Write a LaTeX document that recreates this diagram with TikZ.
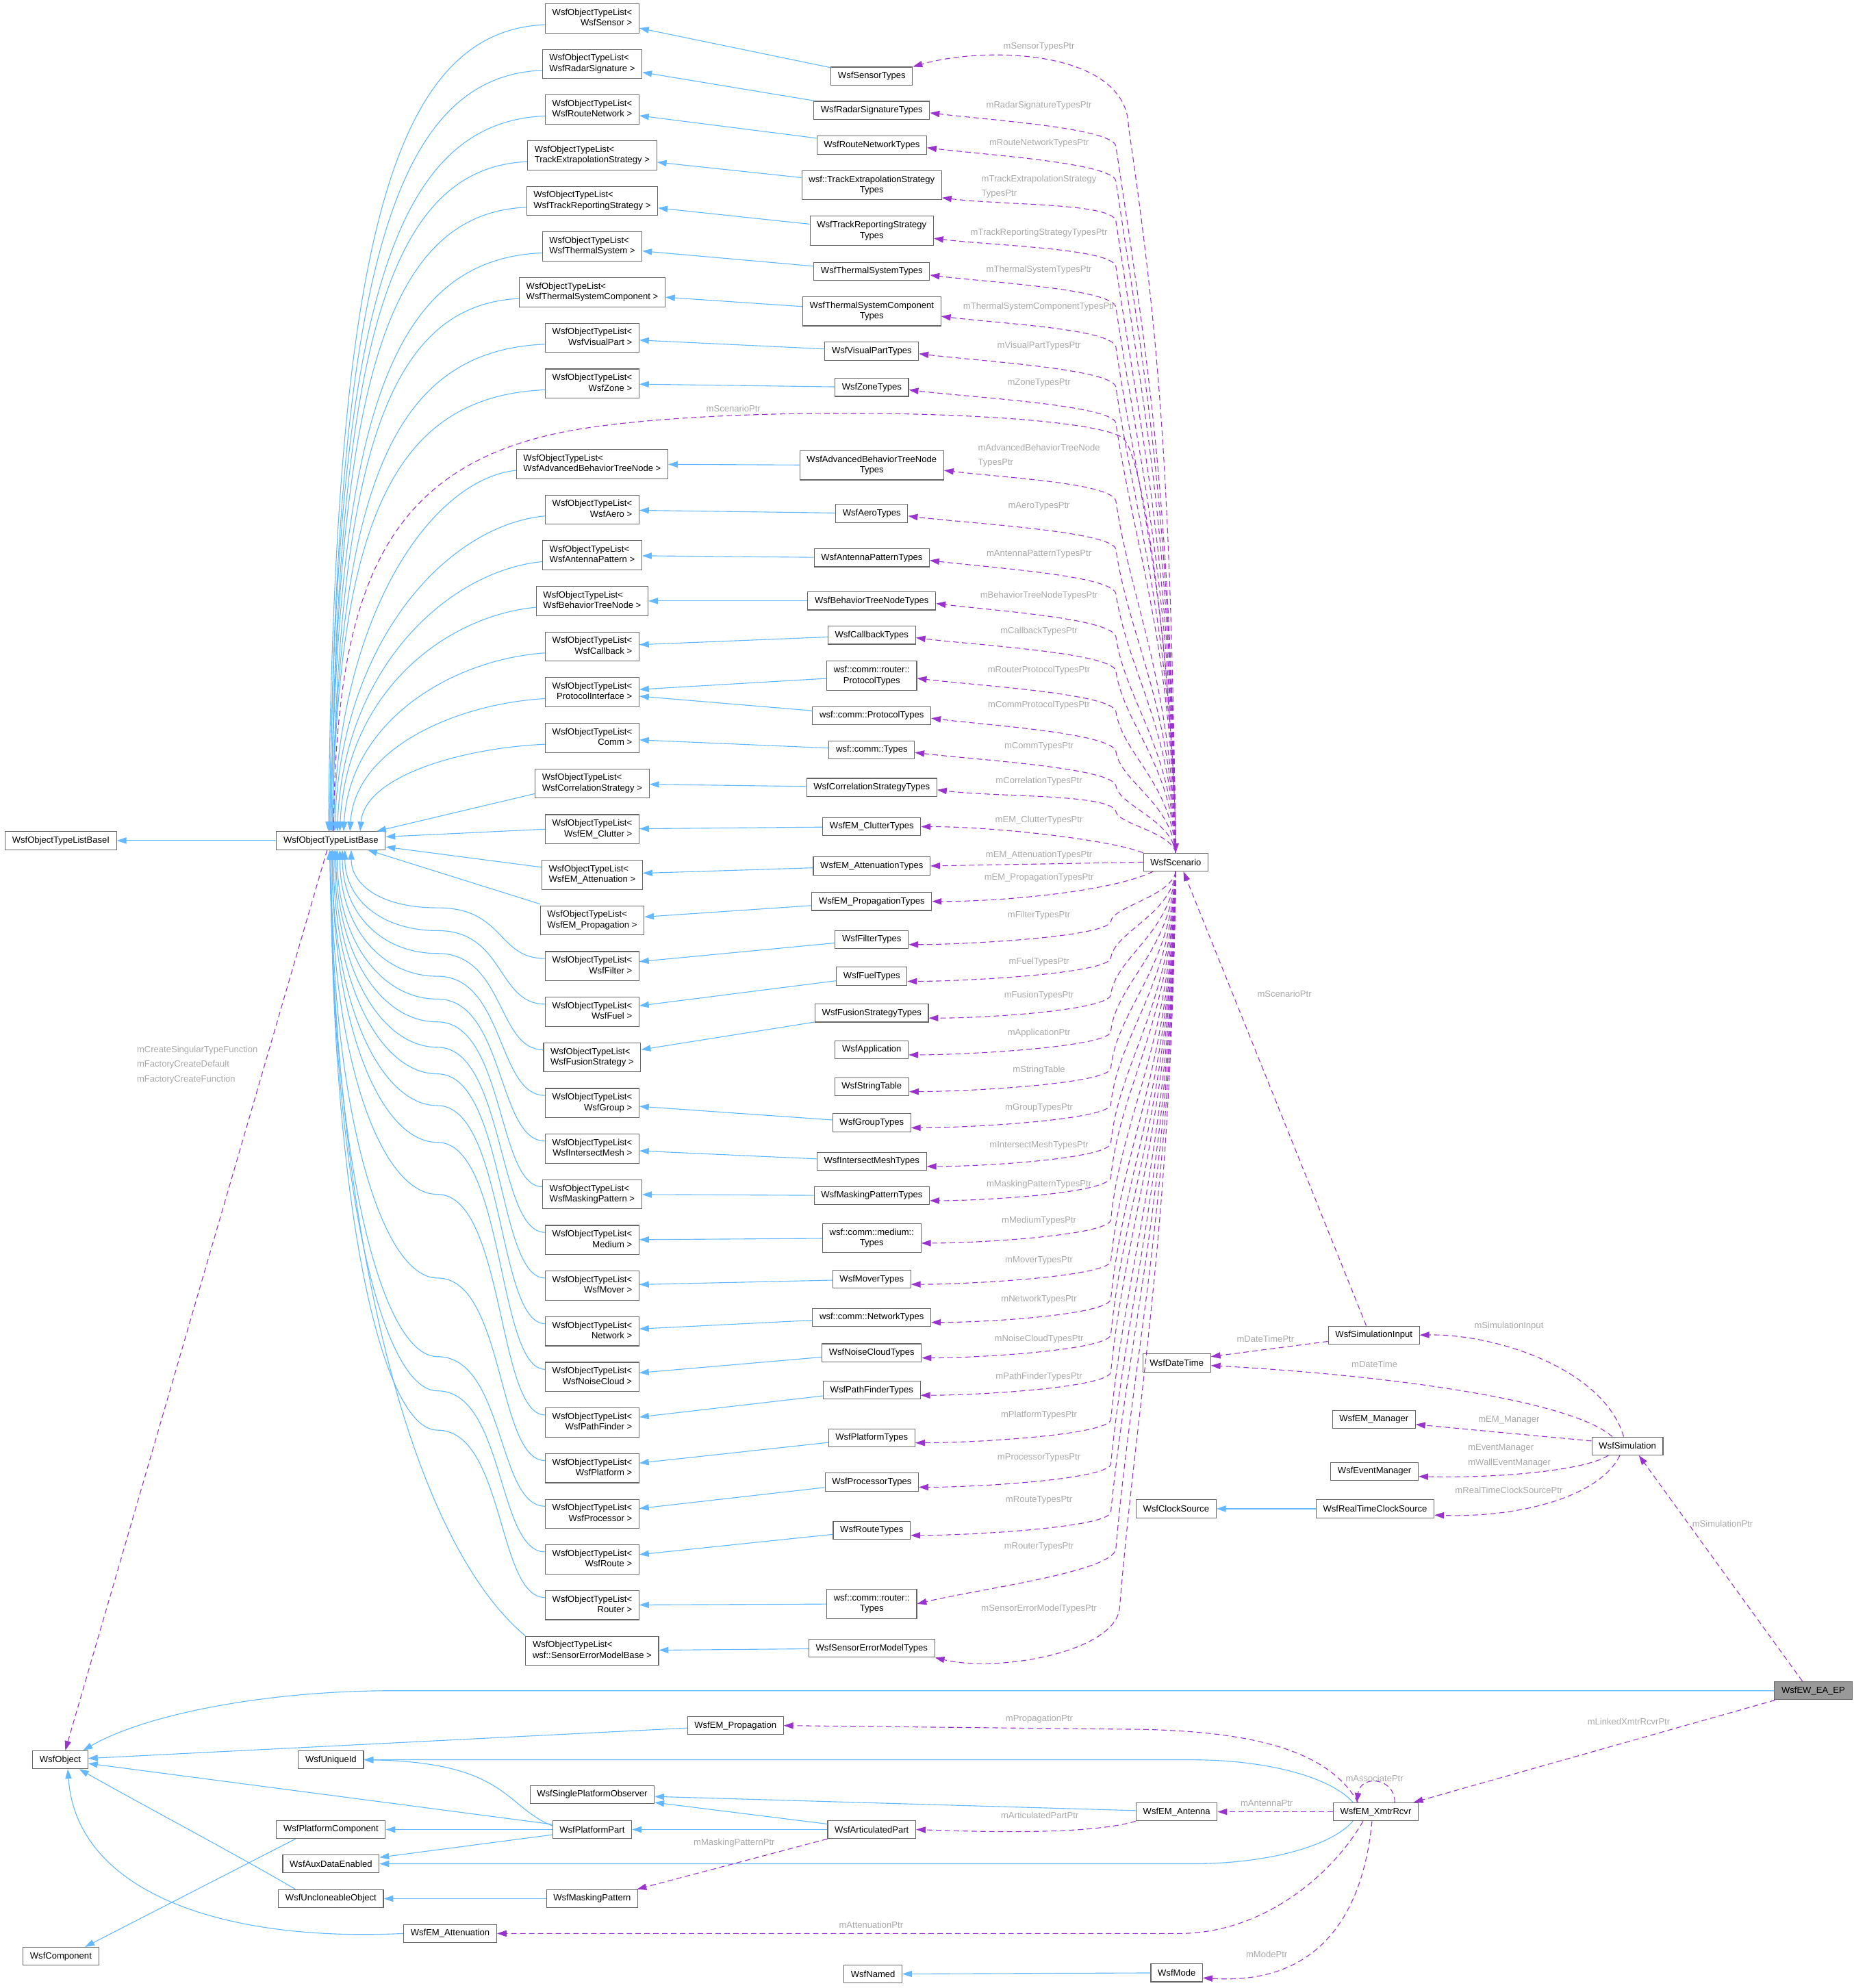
\documentclass[tikz,border=0pt]{standalone}
\usepackage{fontspec}
\setmainfont{Liberation Sans}
\usetikzlibrary{arrows.meta}
\definecolor{inhblue}{HTML}{63B8FF}
\definecolor{ptrpurple}{HTML}{9A32CD}
\definecolor{lblgrey}{HTML}{A8A8A8}
\definecolor{boxgrey}{HTML}{666666}
\definecolor{mainfill}{HTML}{999999}
% first line flush left, second line centred
\newcommand{\tlist}[1]{\begin{tabular}{@{}l@{}}WsfObjectTypeList<\\\hfill #1\hfill\end{tabular}}
% scenario member pointers, above and below the scenario box
\newcommand{\scenup}[2]{\draw[ptr] (scen.north) .. controls +(-4,{-0.5*(645-#2)}) and +({0.045*(645-#2)},{0.3*(645-#2)}) .. (880,#2+28) .. controls +(-4,-14) and +(50,6) .. #1;}
\newcommand{\scendown}[2]{\draw[ptr] (scen.south) .. controls +(-4,{0.5*(#2-701)}) and +({0.03*(#2-701)},{-0.3*(#2-701)}) .. (876,#2-14) .. controls +(-4,12) and +(45,0) .. ([yshift=-4pt]#1.east);}
% lower type lists back up to the base
\newcommand{\lowlink}[4]{\draw[inh] ([yshift=6pt]#1.west) .. controls (392,#4-6) and (398,#3) .. (345,#3) .. controls (300,#3) and ({261+#2},{670+0.6*(#3-670)}) .. ([xshift=#2pt]base.south);}

\begin{document}
\begin{tikzpicture}[x=1pt,y=-1pt,>={Triangle[length=7.5pt,width=5pt]},
    cls/.style={draw=boxgrey,fill=white,line width=0.6pt,inner xsep=5.5pt,inner ysep=0pt,minimum height=14.2pt,font=\fontsize{7.05}{8.3}\selectfont},
    tall/.style={cls,minimum height=23pt,align=center},
    hilite/.style={cls,fill=mainfill},
    lbl/.style={text=lblgrey,inner sep=0pt,align=left,font=\fontsize{7.05}{11.6}\selectfont},
    inh/.style={->,draw=inhblue,line width=0.6pt},
    ptr/.style={->,draw=ptrpurple,line width=0.6pt,dash pattern=on 4.3pt off 2.7pt}]
\useasboundingbox (0,0) rectangle (1462,1568);

% the type lists
\node[tall] (lsensor) at (467,14.5) {\tlist{WsfSensor >}};
\node[tall] (lradar) at (467,50.5) {\tlist{WsfRadarSignature >}};
\node[tall] (lroutenet) at (467,86.5) {\tlist{WsfRouteNetwork >}};
\node[tall] (ltrackext) at (467,122.5) {\tlist{TrackExtrapolationStrategy >}};
\node[tall] (ltrackrep) at (467,158.5) {\tlist{WsfTrackReportingStrategy >}};
\node[tall] (lthermal) at (467,194.5) {\tlist{WsfThermalSystem >}};
\node[tall] (lthermalcomp) at (467,230.5) {\tlist{WsfThermalSystemComponent >}};
\node[tall] (lvisual) at (467,266.5) {\tlist{WsfVisualPart >}};
\node[tall] (lzone) at (467,302.5) {\tlist{WsfZone >}};
\node[tall] (ladvbt) at (467,366) {\tlist{WsfAdvancedBehaviorTreeNode >}};
\node[tall] (laero) at (467,402) {\tlist{WsfAero >}};
\node[tall] (lantpat) at (467,438) {\tlist{WsfAntennaPattern >}};
\node[tall] (lbt) at (467,474) {\tlist{WsfBehaviorTreeNode >}};
\node[tall] (lcallback) at (467,510) {\tlist{WsfCallback >}};
\node[tall] (lprotocol) at (467,546) {\tlist{ProtocolInterface >}};
\node[tall] (lcomm) at (467,582) {\tlist{Comm >}};
\node[tall] (lcorrel) at (467,618) {\tlist{WsfCorrelationStrategy >}};
\node[tall] (lclutter) at (467,654) {\tlist{WsfEM\_Clutter >}};
\node[tall] (latten) at (467,690) {\tlist{WsfEM\_Attenuation >}};
\node[tall] (lprop) at (467,726) {\tlist{WsfEM\_Propagation >}};
\node[tall] (lfilter) at (467,762) {\tlist{WsfFilter >}};
\node[tall] (lfuel) at (467,798) {\tlist{WsfFuel >}};
\node[tall] (lfusion) at (467,834) {\tlist{WsfFusionStrategy >}};
\node[tall] (lgroup) at (467,870) {\tlist{WsfGroup >}};
\node[tall] (lmesh) at (467,906) {\tlist{WsfIntersectMesh >}};
\node[tall] (lmask) at (467,942) {\tlist{WsfMaskingPattern >}};
\node[tall] (lmedium) at (467,978) {\tlist{Medium >}};
\node[tall] (lmover) at (467,1014) {\tlist{WsfMover >}};
\node[tall] (lnetwork) at (467,1050) {\tlist{Network >}};
\node[tall] (lnoise) at (467,1086) {\tlist{WsfNoiseCloud >}};
\node[tall] (lpath) at (467,1122) {\tlist{WsfPathFinder >}};
\node[tall] (lplatform) at (467,1158) {\tlist{WsfPlatform >}};
\node[tall] (lproc) at (467,1194) {\tlist{WsfProcessor >}};
\node[tall] (lroute) at (467,1230) {\tlist{WsfRoute >}};
\node[tall] (lrouter) at (467,1266) {\tlist{Router >}};
\node[tall] (lsensorerr) at (467,1302) {\tlist{wsf::SensorErrorModelBase >}};

% the type tables
\node[cls] (tsensor) at (687.5,60) {WsfSensorTypes};
\node[cls] (tradar) at (687.5,87) {WsfRadarSignatureTypes};
\node[cls] (troutenet) at (687.5,114.5) {WsfRouteNetworkTypes};
\node[tall] (ttrackext) at (687.5,146) {wsf::TrackExtrapolationStrategy\\Types};
\node[tall] (ttrackrep) at (687.5,182) {WsfTrackReportingStrategy\\Types};
\node[cls] (tthermal) at (687.5,214) {WsfThermalSystemTypes};
\node[tall] (tthermalcomp) at (687.5,245.5) {WsfThermalSystemComponent\\Types};
\node[cls] (tvisual) at (687.5,277) {WsfVisualPartTypes};
\node[cls] (tzone) at (687.5,305.5) {WsfZoneTypes};
\node[tall] (tadvbt) at (687.5,367) {WsfAdvancedBehaviorTreeNode\\Types};
\node[cls] (taero) at (687.5,405) {WsfAeroTypes};
\node[cls] (tantpat) at (687.5,440) {WsfAntennaPatternTypes};
\node[cls] (tbt) at (687.5,474) {WsfBehaviorTreeNodeTypes};
\node[cls] (tcallback) at (687.5,501) {WsfCallbackTypes};
\node[tall] (trouterproto) at (687.5,533) {wsf::comm::router::\\ProtocolTypes};
\node[cls] (tcommproto) at (687.5,564.5) {wsf::comm::ProtocolTypes};
\node[cls] (tcomm) at (687.5,591.5) {wsf::comm::Types};
\node[cls] (tcorrel) at (687.5,621) {WsfCorrelationStrategyTypes};
\node[cls] (tclutter) at (687.5,652) {WsfEM\_ClutterTypes};
\node[cls] (tatten) at (687.5,683) {WsfEM\_AttenuationTypes};
\node[cls] (tprop) at (687.5,711) {WsfEM\_PropagationTypes};
\node[cls] (tfilter) at (687.5,741) {WsfFilterTypes};
\node[cls] (tfuel) at (687.5,770) {WsfFuelTypes};
\node[cls] (tfusion) at (687.5,799) {WsfFusionStrategyTypes};
\node[cls] (tapp) at (687.5,828) {WsfApplication};
\node[cls] (tstrings) at (687.5,857) {WsfStringTable};
\node[cls] (tgroup) at (687.5,885.5) {WsfGroupTypes};
\node[cls] (tmesh) at (687.5,916) {WsfIntersectMeshTypes};
\node[cls] (tmask) at (687.5,943) {WsfMaskingPatternTypes};
\node[tall] (tmedium) at (687.5,976.5) {wsf::comm::medium::\\Types};
\node[cls] (tmover) at (687.5,1009) {WsfMoverTypes};
\node[cls] (tnetwork) at (687.5,1039) {wsf::comm::NetworkTypes};
\node[cls] (tnoise) at (687.5,1067) {WsfNoiseCloudTypes};
\node[cls] (tpath) at (687.5,1096.5) {WsfPathFinderTypes};
\node[cls] (tplatform) at (687.5,1134) {WsfPlatformTypes};
\node[cls] (tproc) at (687.5,1169) {WsfProcessorTypes};
\node[cls] (troute) at (687.5,1207) {WsfRouteTypes};
\node[tall] (trouter) at (687.5,1265) {wsf::comm::router::\\Types};
\node[cls] (tsensorerr) at (687.5,1300) {WsfSensorErrorModelTypes};

% the other classes
\node[cls] (basei) at (48,663) {WsfObjectTypeListBaseI};
\node[cls] (base) at (261,663) {WsfObjectTypeListBase};
\node[cls] (scen) at (927.3,680) {WsfScenario};
\node[cls] (simin) at (1083.5,1053) {WsfSimulationInput};
\node[cls] (datetime) at (928,1075) {WsfDateTime};
\node[cls] (emmgr) at (1083.5,1119.5) {WsfEM\_Manager};
\node[cls] (sim) at (1283.5,1140.5) {WsfSimulation};
\node[cls] (evmgr) at (1084,1160.5) {WsfEventManager};
\node[cls] (clock) at (927.5,1190) {WsfClockSource};
\node[cls] (rtclock) at (1084.5,1190) {WsfRealTimeClockSource};
\node[hilite] (ew) at (1430,1333.5) {WsfEW\_EA\_EP};
\node[cls] (obj) at (47.5,1388) {WsfObject};
\node[cls] (uid) at (261,1388) {WsfUniqueId};
\node[cls] (emprop) at (580,1361) {WsfEM\_Propagation};
\node[cls] (spo) at (467,1415.5) {WsfSinglePlatformObserver};
\node[cls] (pc) at (261,1443) {WsfPlatformComponent};
\node[cls] (pp) at (467,1443) {WsfPlatformPart};
\node[cls] (ap) at (687.5,1443) {WsfArticulatedPart};
\node[cls] (aux) at (261,1470) {WsfAuxDataEnabled};
\node[cls] (uo) at (261,1497.5) {WsfUncloneableObject};
\node[cls] (mp) at (467,1497.5) {WsfMaskingPattern};
\node[cls] (ematt) at (355,1525) {WsfEM\_Attenuation};
\node[cls] (comp) at (48,1543) {WsfComponent};
\node[cls] (named) at (688.5,1557) {WsfNamed};
\node[cls] (mode) at (928,1556) {WsfMode};
\node[cls] (ant) at (928,1429) {WsfEM\_Antenna};
\node[cls] (xr) at (1085,1429) {WsfEM\_XmtrRcvr};

% tables derive from their lists
\draw[inh] (tsensor) -- (lsensor);
\draw[inh] (tradar) -- (lradar);
\draw[inh] (troutenet) -- (lroutenet);
\draw[inh] (ttrackext) -- (ltrackext);
\draw[inh] (ttrackrep) -- (ltrackrep);
\draw[inh] (tthermal) -- (lthermal);
\draw[inh] (tthermalcomp) -- (lthermalcomp);
\draw[inh] (tvisual) -- (lvisual);
\draw[inh] (tzone) -- (lzone);
\draw[inh] (tadvbt) -- (ladvbt);
\draw[inh] (taero) -- (laero);
\draw[inh] (tantpat) -- (lantpat);
\draw[inh] (tbt) -- (lbt);
\draw[inh] (tcallback) -- (lcallback);
\draw[inh] (trouterproto) -- (lprotocol);
\draw[inh] (tcommproto) -- (lprotocol);
\draw[inh] (tcomm) -- (lcomm);
\draw[inh] (tcorrel) -- (lcorrel);
\draw[inh] (tclutter) -- (lclutter);
\draw[inh] (tatten) -- (latten);
\draw[inh] (tprop) -- (lprop);
\draw[inh] (tfilter) -- (lfilter);
\draw[inh] (tfuel) -- (lfuel);
\draw[inh] (tfusion) -- (lfusion);
\draw[inh] (tgroup) -- (lgroup);
\draw[inh] (tmesh) -- (lmesh);
\draw[inh] (tmask) -- (lmask);
\draw[inh] (tmedium) -- (lmedium);
\draw[inh] (tmover) -- (lmover);
\draw[inh] (tnetwork) -- (lnetwork);
\draw[inh] (tnoise) -- (lnoise);
\draw[inh] (tpath) -- (lpath);
\draw[inh] (tplatform) -- (lplatform);
\draw[inh] (tproc) -- (lproc);
\draw[inh] (troute) -- (lroute);
\draw[inh] (trouter) -- (lrouter);
\draw[inh] (tsensorerr) -- (lsensorerr);

% lists derive from the base
\draw[inh] ([yshift=-5pt]lsensor.west) .. controls (305,24.5) and (264,207) .. ([xshift=-2pt]base.north);
\draw[inh] ([yshift=-5pt]lradar.west) .. controls (305,60.5) and (265,232) .. ([xshift=-1pt]base.north);
\draw[inh] ([yshift=-5pt]lroutenet.west) .. controls (305,96.5) and (265,257) .. ([xshift=-1pt]base.north);
\draw[inh] ([yshift=-5pt]ltrackext.west) .. controls (303,132.5) and (266,282) .. (base.north);
\draw[inh] ([yshift=-5pt]ltrackrep.west) .. controls (303,168.5) and (266,308) .. (base.north);
\draw[inh] ([yshift=-5pt]lthermal.west) .. controls (307,204.5) and (266,333) .. (base.north);
\draw[inh] ([yshift=-5pt]lthermalcomp.west) .. controls (307,240.5) and (267,358) .. ([xshift=1pt]base.north);
\draw[inh] ([yshift=-5pt]lvisual.west) .. controls (310,276.5) and (267,383) .. ([xshift=1pt]base.north);
\draw[inh] ([yshift=-5pt]lzone.west) .. controls (312,312.5) and (267,408) .. ([xshift=1pt]base.north);
\draw[inh] ([yshift=-5pt]ladvbt.west) .. controls (341,378) and (268,482) .. ([xshift=2pt]base.north);
\draw[inh] ([yshift=-5pt]laero.west) .. controls (354,414) and (269,504) .. ([xshift=3pt]base.north);
\draw[inh] ([yshift=-5pt]lantpat.west) .. controls (355,450) and (271,525) .. ([xshift=5pt]base.north);
\draw[inh] ([yshift=-5pt]lbt.west) .. controls (350,486) and (273,547) .. ([xshift=7pt]base.north);
\draw[inh] ([yshift=-5pt]lcallback.west) .. controls (357,520) and (276,568) .. ([xshift=10pt]base.north);
\draw[inh] ([yshift=-5pt]lprotocol.west) .. controls (360,555) and (280,590) .. ([xshift=15pt]base.north);
\draw[inh] ([yshift=-5pt]lcomm.west) .. controls (364,590) and (288,612) .. ([xshift=23pt]base.north);
\draw[inh] ([yshift=-8pt]lcorrel.west) -- ([xshift=36pt]base.north);
\draw[inh] (lclutter.west) -- ([yshift=3pt]base.east);
\draw[inh] ([yshift=6pt]latten.west) -- ([yshift=-5pt]base.east);
\draw[inh] ([yshift=13pt]lprop.west) -- ([xshift=29pt]base.south);
\lowlink{lfilter}{16}{716}{762}
\lowlink{lfuel}{11}{734}{798}
\lowlink{lfusion}{9}{752}{834}
\lowlink{lgroup}{7}{770}{870}
\lowlink{lmesh}{5}{788}{906}
\lowlink{lmask}{4}{806}{942}
\lowlink{lmedium}{3}{826}{978}
\lowlink{lmover}{2}{847}{1014}
\lowlink{lnetwork}{1}{872}{1050}
\lowlink{lnoise}{1}{901}{1086}
\lowlink{lpath}{0}{942}{1122}
\lowlink{lplatform}{0}{1008}{1158}
\lowlink{lproc}{0}{1070}{1194}
\lowlink{lroute}{0}{1097}{1230}
\lowlink{lrouter}{0}{1128}{1266}
\draw[inh] (lsensorerr.north west) .. controls (330,1220) and (265,1000) .. ([xshift=-1pt]base.south);
\draw[inh] (base) -- (basei);

% scenario pointers to the type tables
\draw[ptr] (scen.north) .. controls +(-4,-290) and +(25,170) .. (890,100) .. controls +(-1,-60) and +(60,-17) .. (tsensor.north east);
\scenup{([yshift=-2pt]tradar.east)}{87}
\scenup{([yshift=-2pt]troutenet.east)}{114.5}
\scenup{([yshift=-10pt]ttrackext.east)}{146}
\scenup{([yshift=-6pt]ttrackrep.east)}{182}
\scenup{([yshift=-3pt]tthermal.east)}{214}
\scenup{([yshift=-4pt]tthermalcomp.east)}{245.5}
\scenup{([yshift=-2pt]tvisual.east)}{277}
\scenup{([yshift=-2pt]tzone.east)}{305.5}
\scenup{([yshift=-4pt]tadvbt.east)}{367}
\scenup{([yshift=-2pt]taero.east)}{405}
\scenup{([yshift=-2pt]tantpat.east)}{440}
\scenup{([yshift=-2pt]tbt.east)}{474}
\scenup{([yshift=-2pt]tcallback.east)}{501}
\scenup{([yshift=-2pt]trouterproto.east)}{533}
\scenup{([yshift=-2pt]tcommproto.east)}{564.5}
\scenup{([yshift=-2pt]tcomm.east)}{591.5}
\scenup{([yshift=-2pt]tcorrel.east)}{612}
\draw[ptr] (scen.north west) .. controls +(-25,-10) and +(60,0) .. (tclutter.east);
\draw[ptr] (scen.west) -- (tatten.east);
\draw[ptr] ([xshift=-18pt]scen.south) .. controls +(-30,15) and +(60,0) .. (tprop.east);
\scendown{tfilter}{741}
\scendown{tfuel}{770}
\scendown{tfusion}{799}
\scendown{tapp}{828}
\scendown{tstrings}{857}
\scendown{tgroup}{885.5}
\scendown{tmesh}{916}
\scendown{tmask}{943}
\scendown{tmedium}{976.5}
\scendown{tmover}{1009}
\scendown{tnetwork}{1039}
\scendown{tnoise}{1067}
\scendown{tpath}{1096.5}
\scendown{tplatform}{1134}
\scendown{tproc}{1169}
\scendown{troute}{1207}
\draw[ptr] (scen.south) .. controls +(-4,270) and +(14,-160) .. (880,1222) .. controls +(-4,18) and +(50,-12) .. (trouter.east);
\draw[ptr] (scen.south) .. controls +(-4,290) and +(14,-170) .. (883,1268) .. controls +(-3,35) and +(50,12) .. (tsensorerr.south east);

% pointer labels
\node[lbl] (nsensor) at (819.4,37) {mSensorTypesPtr};
\node[lbl] (nradar) at (819.4,83) {mRadarSignatureTypesPtr};
\node[lbl] (nroutenet) at (819.4,113) {mRouteNetworkTypesPtr};
\node[lbl] (ntrackext) at (819.4,147.3) {mTrackExtrapolationStrategy\\TypesPtr};
\node[lbl] (ntrackrep) at (819.4,183.6) {mTrackReportingStrategyTypesPtr};
\node[lbl] (nthermal) at (819.4,213) {mThermalSystemTypesPtr};
\node[lbl] (nthermalcomp) at (819.4,242) {mThermalSystemComponentTypesPtr};
\node[lbl] (nvisual) at (819.4,273) {mVisualPartTypesPtr};
\node[lbl] (nzone) at (819.4,302) {mZoneTypesPtr};
\node[lbl] (nadvbt) at (819.4,359.5) {mAdvancedBehaviorTreeNode\\TypesPtr};
\node[lbl] (naero) at (819.4,399) {mAeroTypesPtr};
\node[lbl] (nantpat) at (819.4,437) {mAntennaPatternTypesPtr};
\node[lbl] (nbt) at (819.4,469.7) {mBehaviorTreeNodeTypesPtr};
\node[lbl] (ncallback) at (819.4,498) {mCallbackTypesPtr};
\node[lbl] (nrouterproto) at (819.4,528.6) {mRouterProtocolTypesPtr};
\node[lbl] (ncommproto) at (819.4,556) {mCommProtocolTypesPtr};
\node[lbl] (ncomm) at (819.4,588.5) {mCommTypesPtr};
\node[lbl] (ncorrel) at (819.4,616) {mCorrelationTypesPtr};
\node[lbl] (nclutter) at (819.4,647) {mEM\_ClutterTypesPtr};
\node[lbl] (natten) at (819.4,674.5) {mEM\_AttenuationTypesPtr};
\node[lbl] (nprop) at (819.4,692) {mEM\_PropagationTypesPtr};
\node[lbl] (nfilter) at (819.4,722) {mFilterTypesPtr};
\node[lbl] (nfuel) at (819.4,758.6) {mFuelTypesPtr};
\node[lbl] (nfusion) at (819.4,785) {mFusionTypesPtr};
\node[lbl] (napp) at (819.4,815) {mApplicationPtr};
\node[lbl] (nstrings) at (819.4,844) {mStringTable};
\node[lbl] (ngroup) at (819.4,874) {mGroupTypesPtr};
\node[lbl] (nmesh) at (819.4,903.5) {mIntersectMeshTypesPtr};
\node[lbl] (nmask) at (819.4,934) {mMaskingPatternTypesPtr};
\node[lbl] (nmedium) at (819.4,963) {mMediumTypesPtr};
\node[lbl] (nmover) at (819.4,994) {mMoverTypesPtr};
\node[lbl] (nnetwork) at (819.4,1025) {mNetworkTypesPtr};
\node[lbl] (nnoise) at (819.4,1056) {mNoiseCloudTypesPtr};
\node[lbl] (npath) at (819.4,1086) {mPathFinderTypesPtr};
\node[lbl] (nplatform) at (819.4,1116) {mPlatformTypesPtr};
\node[lbl] (nproc) at (819.4,1149.5) {mProcessorTypesPtr};
\node[lbl] (nroute) at (819.4,1183) {mRouteTypesPtr};
\node[lbl] (nrouter) at (819.4,1220) {mRouterTypesPtr};
\node[lbl] (nsensorerr) at (819.4,1269) {mSensorErrorModelTypesPtr};

% base and scenario
\draw[ptr] ([xshift=2pt]base.north) .. controls (265,470) and (300,370) .. (443,341) .. controls (557,318) and (850,323) .. (885,345) .. controls (905,360) and (926,560) .. (scen.north);
\node[lbl] (nscenleft) at (578.4,322) {mScenarioPtr};
\draw[ptr] ([xshift=-3pt]base.south) -- ([xshift=4pt]obj.north);
\node[lbl,anchor=west] (nfactory) at (107.8,839.8) {mCreateSingularTypeFunction\\mFactoryCreateDefault\\mFactoryCreateFunction};

% simulation side
\draw[ptr] ([xshift=-6pt]simin.north) -- ([xshift=6pt]scen.south);
\node[lbl] (nscenright) at (1013,784) {mScenarioPtr};
\draw[ptr] ([xshift=-3pt]sim.north) .. controls (1265,1080) and (1180,1052) .. (simin.east);
\node[lbl] (nsimin) at (1190,1046) {mSimulationInput};
\draw[ptr] ([yshift=-5pt]simin.west) -- ([yshift=5pt]datetime.east);
\node[lbl] (ndtptr) at (998,1056) {mDateTimePtr};
\draw[ptr] ([xshift=-12pt]sim.north) .. controls (1240,1105) and (1100,1085) .. ([yshift=-2pt]datetime.east);
\node[lbl] (ndt) at (1084,1076) {mDateTime};
\draw[ptr] ([yshift=4pt]sim.west) -- ([yshift=-4pt]emmgr.east);
\node[lbl] (nemmgr) at (1190,1120) {mEM\_Manager};
\draw[ptr] ([xshift=-15pt]sim.south) .. controls (1250,1160) and (1180,1166) .. ([yshift=-4pt]evmgr.east);
\node[lbl,anchor=west] (nevmgr) at (1157.6,1148) {mEventManager\\mWallEventManager};
\draw[ptr] ([xshift=-6pt]sim.south) .. controls (1262,1180) and (1200,1197) .. ([yshift=-5pt]rtclock.east);
\node[lbl] (nrtclock) at (1190,1175.5) {mRealTimeClockSourcePtr};
\draw[inh] (rtclock) -- (clock);
\draw[ptr] ([xshift=-8.5pt]ew.north) -- ([xshift=9pt]sim.south);
\node[lbl] (nsim) at (1358.5,1202) {mSimulationPtr};
\draw[ptr] ([xshift=-30pt]ew.south) -- ([xshift=-4pt]xr.north east);
\node[lbl] (nlinked) at (1284.5,1358) {mLinkedXmtrRcvrPtr};

% bottom classes
\draw[inh] (ew.west) -- (310,1333.5) .. controls (210,1333.5) and (115,1352) .. ([xshift=18pt]obj.north);
\draw[inh] (emprop) -- (obj);
\draw[inh] (pp) -- (obj);
\draw[inh] ([yshift=3pt]pp.west) .. controls (398,1425) and (400,1390) .. (uid.east);
\draw[inh] (pp) -- (pc);
\draw[inh] (pp) -- (aux);
\draw[inh] (ap) -- (spo);
\draw[inh] (ap) -- (pp);
\draw[inh] (ant) -- (spo);
\draw[inh] ([xshift=-18pt]xr.north) .. controls (1050,1402) and (1000,1388) .. (940,1388) -- (uid.east);
\draw[inh] ([xshift=-18pt]xr.south) .. controls (1050,1456) and (1000,1470) .. (940,1470) -- (aux.east);
\draw[inh] ([xshift=-28pt]pc.south) -- ([xshift=19pt]comp.north);
\draw[inh] ([xshift=-28pt]uo.north) .. controls (185,1462) and (115,1425) .. ([xshift=15pt]obj.south);
\draw[inh] (mp) -- (uo);
\draw[inh] (ematt.west) .. controls (170,1532) and (60,1490) .. ([xshift=6pt]obj.south);
\draw[inh] (mode) -- (named);

\draw[ptr] ([xshift=-14pt]xr.north) .. controls (1050,1385) and (1000,1366) .. (900,1364) -- (emprop.east);
\node[lbl] (nprop2) at (819.6,1356) {mPropagationPtr};
\draw[ptr] ([xshift=15pt]xr.north) .. controls +(0,-20) and +(3,-22) .. ([xshift=-15pt]xr.north);
\node[lbl] (nassoc) at (1084,1402.7) {mAssociatePtr};
\draw[ptr] (xr) -- (ant);
\node[lbl] (nant) at (999,1422) {mAntennaPtr};
\draw[ptr] (ant.south west) .. controls (860,1447) and (780,1445) .. (ap.east);
\node[lbl] (nap) at (820,1432) {mArticulatedPartPtr};
\draw[ptr] (ap.south west) -- ([xshift=-1pt]mp.north east);
\node[lbl] (nmp) at (579,1453.5) {mMaskingPatternPtr};
\draw[ptr] ([xshift=-10pt]xr.south) .. controls (1050,1480) and (995,1525) .. (930,1525) -- (ematt.east);
\node[lbl] (natt) at (687,1518) {mAttenuationPtr};
\draw[ptr] ([xshift=-3pt]xr.south) .. controls (1075,1510) and (1040,1566) .. ([yshift=-4pt]mode.east);
\node[lbl] (nmode) at (999,1541.5) {mModePtr};
\end{tikzpicture}
\end{document}
